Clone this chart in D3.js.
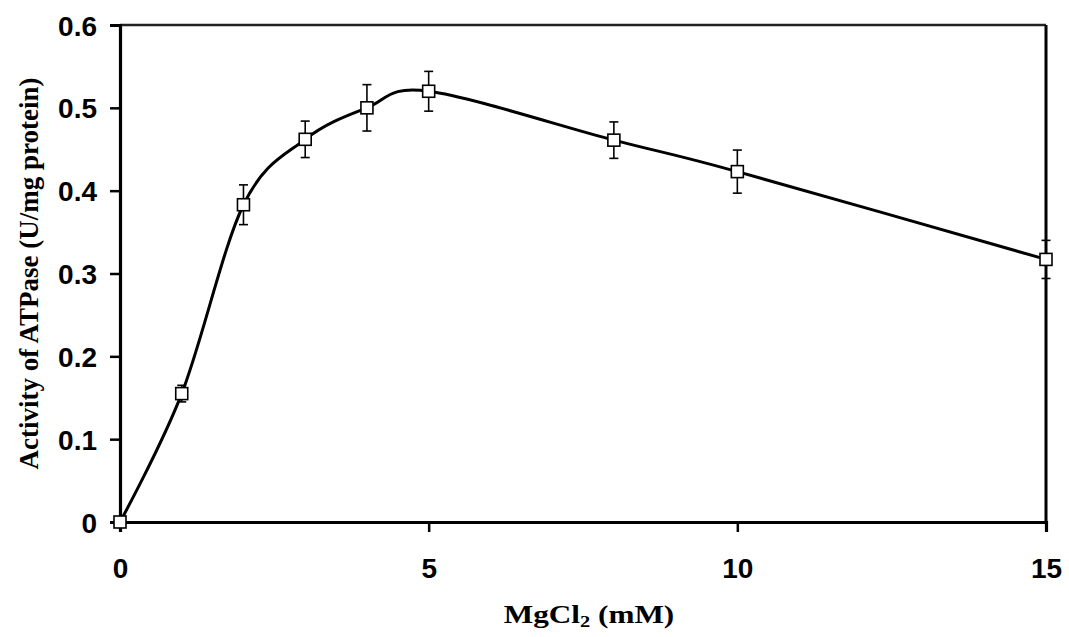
<!DOCTYPE html>
<html>
<head>
<meta charset="utf-8">
<script src="https://cdn.jsdelivr.net/npm/d3@7"></script>
<style>
  html, body { margin: 0; padding: 0; background: #fff; }
  svg { display: block; }
</style>
</head>
<body>
<svg id="chart" width="1069" height="637"></svg>
<script>
// ---- data ----
const mgcl2 = [0, 1, 2, 3, 4, 5, 8, 10, 15];
const activity = [0, 0.155, 0.383, 0.462, 0.500, 0.520, 0.461, 0.423, 0.317];
const errors = [0, 0.010, 0.024, 0.022, 0.028, 0.024, 0.022, 0.026, 0.023];
const xTicks = [0, 5, 10, 15];
const yTicks = [0, 0.1, 0.2, 0.3, 0.4, 0.5, 0.6];
const yTickLabels = ["0", "0.1", "0.2", "0.3", "0.4", "0.5", "0.6"];

(function () {
const svg = d3.select("#chart");
const mLeft = 120, mRight = 1046, mTop = 25, mBottom = 522;

const x = d3.scaleLinear().domain([0, 15]).range([mLeft, mRight]);
const y = d3.scaleLinear().domain([0, 0.6]).range([mBottom, mTop]);

// frame: top and right border
svg.append("line").attr("x1", mLeft).attr("x2", mRight).attr("y1", mTop).attr("y2", mTop)
  .attr("stroke", "#222").attr("stroke-width", 2.5);
svg.append("line").attr("x1", mRight).attr("x2", mRight).attr("y1", mTop).attr("y2", mBottom)
  .attr("stroke", "#000").attr("stroke-width", 3);

// y axis
const yAxis = d3.axisLeft(y).tickValues(yTicks)
  .tickFormat((d, i) => yTickLabels[i]).tickSize(10).tickPadding(13);
const gy = svg.append("g").attr("transform", `translate(${mLeft},0)`).call(yAxis);
gy.select(".domain").attr("stroke", "#000").attr("stroke-width", 3.2);
gy.selectAll(".tick line").attr("stroke", "#000").attr("stroke-width", 2.5);
gy.selectAll(".tick text").attr("font-family", "Liberation Sans, Arial, sans-serif")
  .attr("font-weight", "bold").attr("font-size", 28).attr("fill", "#000").attr("dy", "0.36em");

// x axis
const xAxis = d3.axisBottom(x).tickValues(xTicks).tickFormat(d3.format("d")).tickSize(10).tickPadding(26);
const gx = svg.append("g").attr("transform", `translate(0,${mBottom})`).call(xAxis);
gx.select(".domain").attr("stroke", "#000").attr("stroke-width", 3.2);
gx.selectAll(".tick line").attr("stroke", "#000").attr("stroke-width", 2.5);
gx.selectAll(".tick text").attr("font-family", "Liberation Sans, Arial, sans-serif")
  .attr("font-weight", "bold").attr("font-size", 28).attr("fill", "#000").attr("dy", "0.71em");

// data
const pts = mgcl2.map((d, i) => ({x: d, y: activity[i], e: errors[i]}));

// error bars
const eb = svg.append("g").attr("stroke", "#000").attr("stroke-width", 1.6);
pts.filter(p => p.e > 0).forEach(p => {
  const cx = x(p.x);
  eb.append("line").attr("x1", cx).attr("x2", cx).attr("y1", y(p.y + p.e)).attr("y2", y(p.y - p.e));
  eb.append("line").attr("x1", cx - 4.5).attr("x2", cx + 4.5).attr("y1", y(p.y + p.e)).attr("y2", y(p.y + p.e));
  eb.append("line").attr("x1", cx - 4.5).attr("x2", cx + 4.5).attr("y1", y(p.y - p.e)).attr("y2", y(p.y - p.e));
});

// smooth line
const line = d3.line().x(d => x(d.x)).y(d => y(d.y)).curve(d3.curveCatmullRom.alpha(0));
svg.append("path").datum(pts).attr("d", line)
  .attr("fill", "none").attr("stroke", "#000").attr("stroke-width", 3);

// markers
const ms = 12;
svg.append("g").selectAll("rect").data(pts).join("rect")
  .attr("x", d => x(d.x) - ms / 2).attr("y", d => y(d.y) - ms / 2)
  .attr("width", ms).attr("height", ms)
  .attr("fill", "#fff").attr("stroke", "#000").attr("stroke-width", 1.6);

// axis titles
svg.append("text")
  .attr("transform", `translate(38,${(mTop + mBottom) / 2}) rotate(-90)`)
  .attr("text-anchor", "middle")
  .attr("font-family", "Liberation Serif, Times New Roman, serif")
  .attr("font-weight", "bold").attr("font-size", 27).attr("fill", "#000")
  .text("Activity of ATPase (U/mg protein)");

const xt = svg.append("text")
  .attr("transform", `translate(${(mLeft + mRight) / 2 + 6},623) scale(1.2,1)`)
  .attr("text-anchor", "middle")
  .attr("font-family", "Liberation Serif, Times New Roman, serif")
  .attr("font-weight", "bold").attr("font-size", 26).attr("fill", "#000");
xt.append("tspan").text("MgCl");
xt.append("tspan").attr("font-size", 17).attr("dy", 4).text("2");
xt.append("tspan").attr("dy", -4).text(" (mM)");
})();
</script>
</body>
</html>
